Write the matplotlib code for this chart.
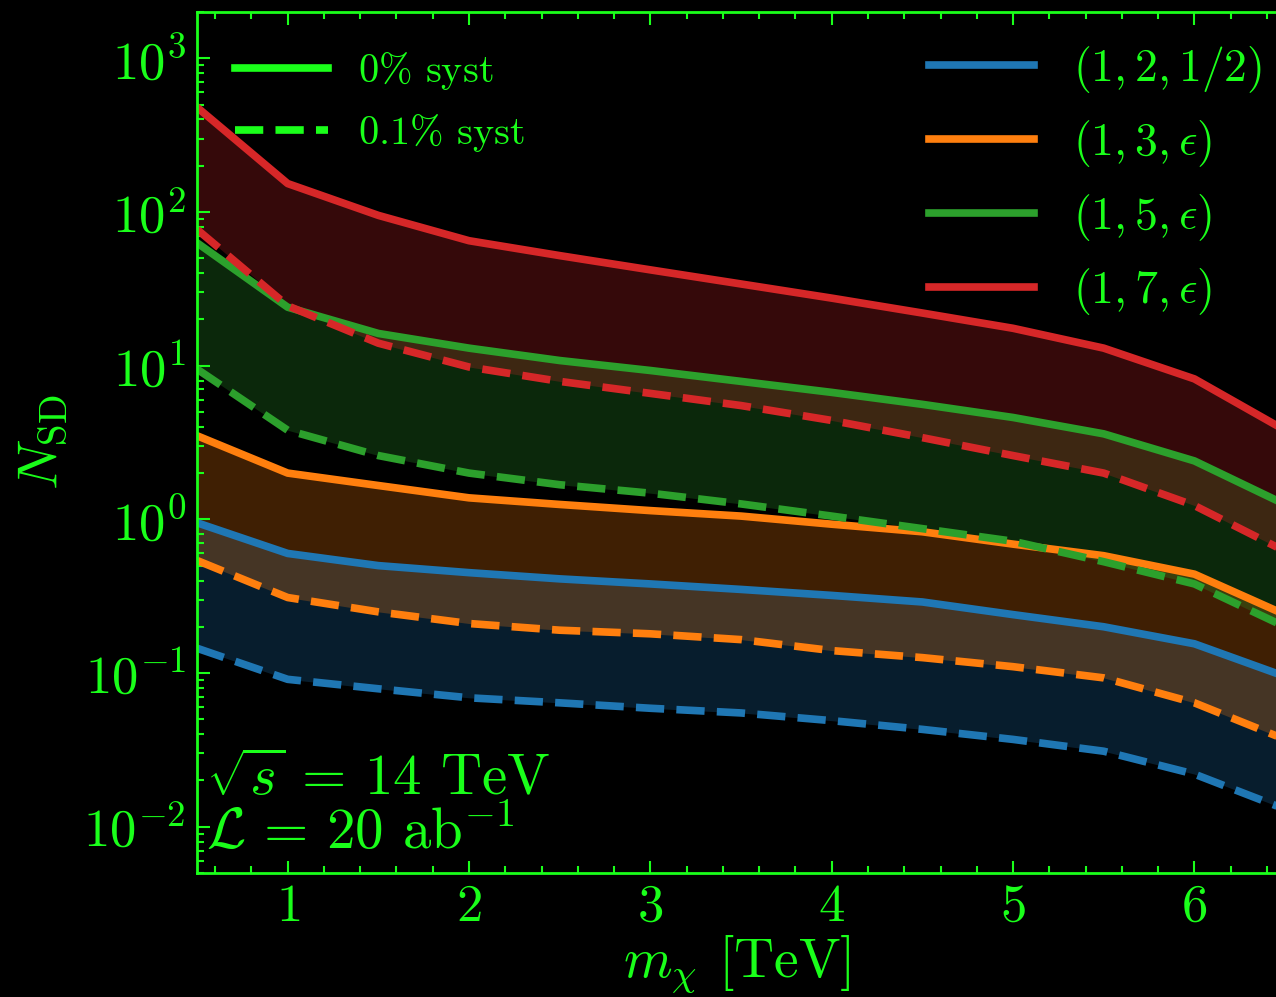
import numpy as np
import matplotlib
matplotlib.use('Agg')
import matplotlib.pyplot as plt
from matplotlib.lines import Line2D

plt.rcParams['font.family'] = 'serif'
plt.rcParams['font.serif'] = ['cmr10']
plt.rcParams['mathtext.fontset'] = 'cm'
plt.rcParams['axes.formatter.use_mathtext'] = True

GREEN = '#1aff1a'

m_chi = [0.5, 1.0, 1.5, 2.0, 2.5, 3.0, 3.5, 4.0, 4.5, 5.0, 5.5, 6.0, 6.5]

labels = [r'$(1,2,1/2)$', r'$(1,3,\epsilon)$', r'$(1,5,\epsilon)$', r'$(1,7,\epsilon)$']
colors = ['tab:blue', 'tab:orange', 'tab:green', 'tab:red']

# 0% syst (solid)
n_sd_0 = [
    [0.95, 0.60, 0.50, 0.45, 0.41, 0.38, 0.35, 0.32, 0.29, 0.24, 0.20, 0.155, 0.095],
    [3.5, 2.0, 1.66, 1.38, 1.25, 1.14, 1.05, 0.93, 0.83, 0.69, 0.58, 0.44, 0.24],
    [63, 24, 16.2, 13, 10.8, 9.3, 7.9, 6.7, 5.6, 4.6, 3.6, 2.4, 1.25],
    [480, 153, 95, 65, 52, 42, 34, 27.5, 22, 17.5, 13, 8.2, 3.8],
]
# 0.1% syst (dashed)
n_sd_01 = [
    [0.145, 0.091, 0.079, 0.069, 0.064, 0.059, 0.055, 0.049, 0.043, 0.037, 0.031, 0.022, 0.013],
    [0.54, 0.31, 0.25, 0.21, 0.19, 0.18, 0.165, 0.14, 0.126, 0.11, 0.093, 0.064, 0.037],
    [9.5, 3.8, 2.6, 2.0, 1.68, 1.48, 1.26, 1.05, 0.87, 0.72, 0.53, 0.38, 0.20],
    [77, 24.5, 14, 9.8, 7.9, 6.6, 5.5, 4.4, 3.4, 2.6, 2.0, 1.23, 0.62],
]

fig = plt.figure(figsize=(12.76, 9.97), dpi=100, facecolor='black')
ax = fig.add_axes([197 / 1276, 124 / 997, 1079 / 1276, 861 / 997])
ax.set_facecolor('black')

for i in range(4):
    ax.fill_between(m_chi, n_sd_01[i], n_sd_0[i], color=colors[i], alpha=0.25, lw=0)
for i in range(4):
    ax.plot(m_chi, n_sd_0[i], color=colors[i], lw=5.5)
    ax.plot(m_chi, n_sd_01[i], color=colors[i], lw=5.5, ls='--')

ax.set_yscale('log')
ax.set_xlim(0.5, 6.45)
ax.set_ylim(5e-3, 2e3)

ax.set_xlabel(r'$m_\chi$ [TeV]', fontsize=40, color=GREEN, labelpad=2)
ax.set_ylabel(r'$N_{\rm SD}$', fontsize=40, color=GREEN, labelpad=10)

ax.xaxis.set_major_locator(matplotlib.ticker.MultipleLocator(1))
ax.xaxis.set_minor_locator(matplotlib.ticker.MultipleLocator(0.2))
ax.tick_params(which='both', direction='in', top=True, right=False, colors=GREEN,
               labelsize=38, width=1.5)
ax.tick_params(which='major', length=9, pad=8)
ax.tick_params(which='minor', length=5)
for s in ['left', 'top', 'bottom']:
    ax.spines[s].set_color(GREEN)
    ax.spines[s].set_linewidth(2)
ax.spines['right'].set_visible(False)

ax.text(0.008, 0.015, r'$\sqrt{s}\,=\,14$ TeV' + '\n' + r'$\mathcal{L}\,=\,20$ ab$^{-1}$',
        transform=ax.transAxes, fontsize=41, color=GREEN, linespacing=1.0,
        va='bottom', ha='left')

syst_handles = [Line2D([], [], color=GREEN, lw=5.5),
                Line2D([], [], color=GREEN, lw=5.5, ls='--')]
leg1 = ax.legend(syst_handles, [r'$0\%$ syst', r'$0.1\%$ syst'], loc='upper left',
                 fontsize=29, frameon=False, handlelength=2.3, labelspacing=0.5,
                 borderaxespad=0.55, handletextpad=0.75, labelcolor=GREEN)
ax.add_artist(leg1)

model_handles = [Line2D([], [], color=c, lw=5.5) for c in colors]
ax.legend(model_handles, labels, loc='upper right', bbox_to_anchor=(1.0, 0.979),
          fontsize=33, frameon=False, handlelength=2.3, labelspacing=0.5,
          borderaxespad=0.0, borderpad=0.3, handletextpad=0.85, labelcolor=GREEN)

fig.savefig('out.png', dpi=100, facecolor='black')
